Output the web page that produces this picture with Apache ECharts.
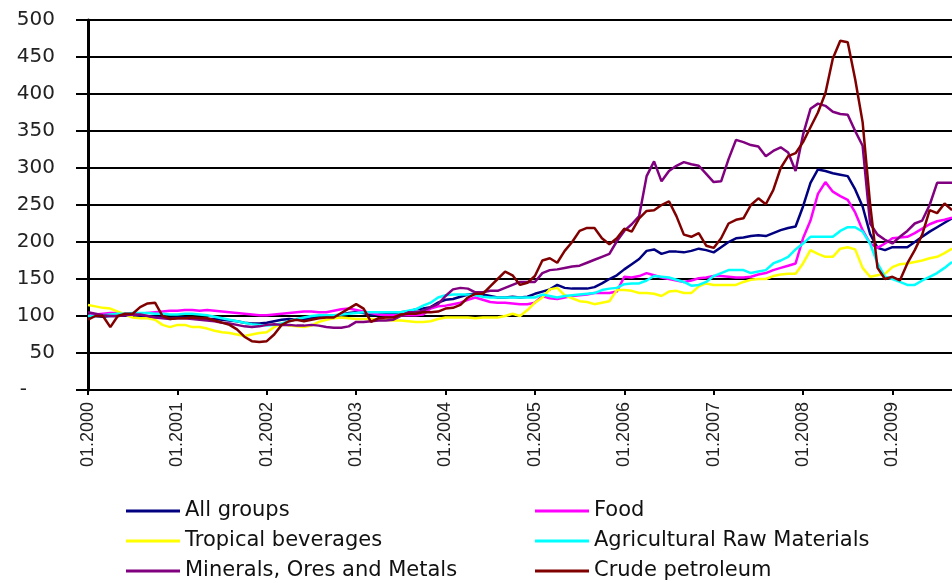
<!DOCTYPE html>
<html>
<head>
<meta charset="utf-8">
<script src="https://cdn.jsdelivr.net/npm/echarts@6/dist/echarts.min.js"></script>
<style>
  html, body { margin: 0; padding: 0; background: #fff; }
  #chart { width: 952px; height: 583px; }
</style>
</head>
<body>
<div id="chart"></div>
<script>
// monthly index, 01.2000 .. 09.2009
const years = [2000, 2001, 2002, 2003, 2004, 2005, 2006, 2007, 2008, 2009]
const lastMonth2009 = 9

const allGroups = [
  100, 100, 99, 100, 100, 101, 100, 99, 99, 99, 98, 97,
  98, 98, 97, 96, 96, 96, 95, 94, 93, 91, 90, 90,
  91, 93, 95, 96, 95, 96, 97, 98, 99, 100, 102, 104,
  105, 104, 101, 102, 103, 104, 105, 106, 109, 110, 112, 118,
  122, 123, 126, 129, 130, 129, 127, 125, 125, 126, 125, 126,
  130, 133, 136, 142, 138, 137, 137, 137, 139, 144, 150, 155,
  163, 170, 177, 188, 190, 184, 187, 187, 186, 188, 191, 189,
  186, 193, 200, 205, 206, 208, 209, 208, 212, 216, 219, 221,
  248, 280, 298, 296, 293, 291, 289, 271, 248, 211, 192, 189,
  193, 193, 193, 200, 207, 214, 220, 226, 232
]

const food = [
  100, 102, 103, 104, 104, 103, 102, 103, 104, 105, 106, 107,
  107, 108, 108, 107, 108, 107, 106, 105, 104, 103, 102, 101,
  101, 102, 103, 104, 105, 106, 106, 105, 105, 107, 109, 110,
  108, 106, 104, 102, 101, 101, 101, 101, 101, 102, 110, 113,
  114, 116, 118, 122, 125, 122, 119, 118, 118, 117, 116, 116,
  118, 127, 124, 123, 125, 127, 128, 129, 131, 131, 131, 133,
  153, 152, 154, 158, 155, 152, 150, 148, 146, 148, 151, 152,
  154, 154, 153, 152, 152, 153, 156, 158, 162, 165, 168, 171,
  205, 229, 265, 281, 268, 262, 257, 240, 216, 198, 192, 198,
  205, 206, 207, 212, 218, 224, 228, 230, 233
]

const tropical = [
  115, 113, 111, 110, 106, 102, 98, 97, 97, 95, 88, 85,
  88, 88, 85, 85, 83, 80, 78, 77, 75, 73, 75, 77,
  78, 85, 90, 87, 86, 85, 87, 92, 95, 97, 98, 97,
  96, 96, 96, 95, 95, 94, 94, 93, 92, 92, 93, 96,
  98, 98, 98, 98, 97, 98, 98, 98, 100, 103, 100, 108,
  118, 125, 136, 138, 128, 124, 120, 119, 116, 118, 120, 135,
  135, 134, 131, 131, 130, 127, 133, 134, 131, 131, 140, 144,
  142, 142, 142, 142, 146, 149, 150, 150, 154, 156, 157, 157,
  171, 189, 184, 180, 180, 191, 193, 190, 165, 153, 155, 157,
  166, 170, 171, 173, 175, 178, 180, 185, 191
]

const agricultural = [
  100, 100, 101, 102, 103, 103, 104, 104, 104, 103, 103, 102,
  102, 103, 103, 102, 101, 99, 97, 95, 93, 91, 89, 88,
  87, 88, 90, 93, 96, 98, 100, 101, 101, 101, 102, 103,
  104, 105, 105, 105, 105, 105, 105, 107, 109, 114, 118, 125,
  128, 129, 129, 129, 128, 126, 125, 125, 125, 125, 125, 125,
  125, 129, 127, 125, 127, 128, 129, 130, 131, 135, 137, 138,
  143, 144, 144, 148, 154, 153, 152, 149, 146, 141, 142, 146,
  154, 158, 162, 162, 162, 158, 160, 162, 171, 175, 180, 190,
  198, 207, 207, 207, 207, 215, 220, 220, 214, 198, 171, 153,
  150, 146, 142, 142, 148, 153, 158, 165, 173
]

const minerals = [
  105, 103, 101, 100, 100, 101, 102, 102, 100, 98, 97, 96,
  97, 97, 96, 95, 94, 93, 91, 90, 88, 86, 85, 86,
  88, 89, 88, 88, 87, 87, 88, 87, 85, 84, 84, 86,
  92, 92, 93, 94, 94, 95, 100, 105, 105, 107, 112, 116,
  127, 136, 138, 137, 132, 132, 134, 134, 138, 142, 146, 146,
  146, 158, 162, 163, 165, 167, 168, 172, 176, 180, 184, 201,
  215, 224, 235, 289, 309, 282, 296, 303, 308, 305, 303, 292,
  281, 282, 312, 338, 335, 331, 329, 316, 323, 328, 321, 296,
  345, 380, 387, 384, 376, 373, 372, 350, 330, 225, 210, 203,
  198, 207, 215, 225, 229, 250, 280, 280, 280
]

const crude = [
  95, 100, 100, 85, 100, 103, 103, 112, 117, 118, 100, 96,
  97, 97, 98, 97, 97, 94, 91, 88, 82, 72, 66, 65,
  66, 75, 88, 93, 95, 93, 95, 97, 98, 98, 104, 110,
  116, 110, 92, 97, 98, 98, 102, 103, 103, 105, 105, 106,
  110, 111, 115, 125, 130, 130, 140, 150, 160, 155, 142, 145,
  154, 175, 178, 172, 188, 200, 215, 219, 219, 205, 197, 205,
  218, 214, 232, 242, 243, 250, 255, 235, 210, 207, 212, 195,
  192, 205, 225, 230, 232, 250, 259, 251, 270, 300, 316, 320,
  335, 355, 375, 401, 448, 472, 470, 420, 362, 252, 165, 150,
  153, 148, 171, 189, 210, 243, 239, 252, 243
]

const yTicks = [0, 50, 100, 150, 200, 250, 300, 350, 400, 450, 500]

const months = []
for (const y of years) {
  const last = y === 2009 ? lastMonth2009 : 12
  for (let m = 1; m <= last; m++) months.push(String(m).padStart(2, '0') + '.' + y)
}

const seriesDefs = [
  { name: 'All groups', data: allGroups, color: '#000080' },
  { name: 'Food', data: food, color: '#ff00ff' },
  { name: 'Tropical beverages', data: tropical, color: '#ffff00' },
  { name: 'Agricultural Raw Materials', data: agricultural, color: '#00ffff' },
  { name: 'Minerals, Ores and Metals', data: minerals, color: '#800080' },
  { name: 'Crude petroleum', data: crude, color: '#800000' },
]

const legendBase = {
  orient: 'vertical',
  top: 500,
  height: 83,
  padding: 0,
  icon: 'rect',
  itemWidth: 54,
  itemHeight: 3,
  itemGap: 8,
  textStyle: { fontFamily: 'DejaVu Sans', fontSize: 21, color: '#111', lineHeight: 22 },
}

const chart = echarts.init(document.getElementById('chart'))
chart.setOption({
  backgroundColor: '#fff',
  animation: false,
  grid: { left: 88, right: 0, top: 20, bottom: 193 },
  legend: [
    { ...legendBase, left: 126, data: ['All groups', 'Tropical beverages', 'Minerals, Ores and Metals'] },
    { ...legendBase, left: 535, data: ['Food', 'Agricultural Raw Materials', 'Crude petroleum'] },
  ],
  xAxis: {
    type: 'category',
    data: months,
    boundaryGap: false,
    axisLine: { lineStyle: { color: '#000', width: 2 } },
    axisTick: { show: true, length: 5, lineStyle: { color: '#000', width: 2 }, interval: (i) => i % 12 === 0 },
    axisLabel: {
      rotate: 90,
      interval: (i) => i % 12 === 0,
      margin: 12,
      fontFamily: 'Liberation Sans',
      fontSize: 18,
      color: '#222',
    },
    splitLine: { show: false },
  },
  yAxis: {
    type: 'value',
    min: yTicks[0],
    max: yTicks[yTicks.length - 1],
    interval: 50,
    axisLine: { show: true, lineStyle: { color: '#000', width: 3 } },
    axisTick: { show: true, length: 12, lineStyle: { color: '#000', width: 2 } },
    axisLabel: {
      margin: 33,
      fontFamily: 'DejaVu Sans',
      fontSize: 20,
      color: '#222',
      formatter: (v) => (v === 0 ? '{dash|-}' : String(v)),
      rich: { dash: { fontFamily: 'DejaVu Sans', fontSize: 20, color: '#222', padding: [0, 28, 0, 0] } },
    },
    splitLine: { show: true, lineStyle: { color: '#000', width: 2 } },
  },
  series: seriesDefs.map((s) => ({
    name: s.name,
    type: 'line',
    data: s.data,
    symbol: 'none',
    smooth: false,
    lineStyle: { color: s.color, width: 2.5 },
    itemStyle: { color: s.color },
  })),
})
</script>
</body>
</html>
